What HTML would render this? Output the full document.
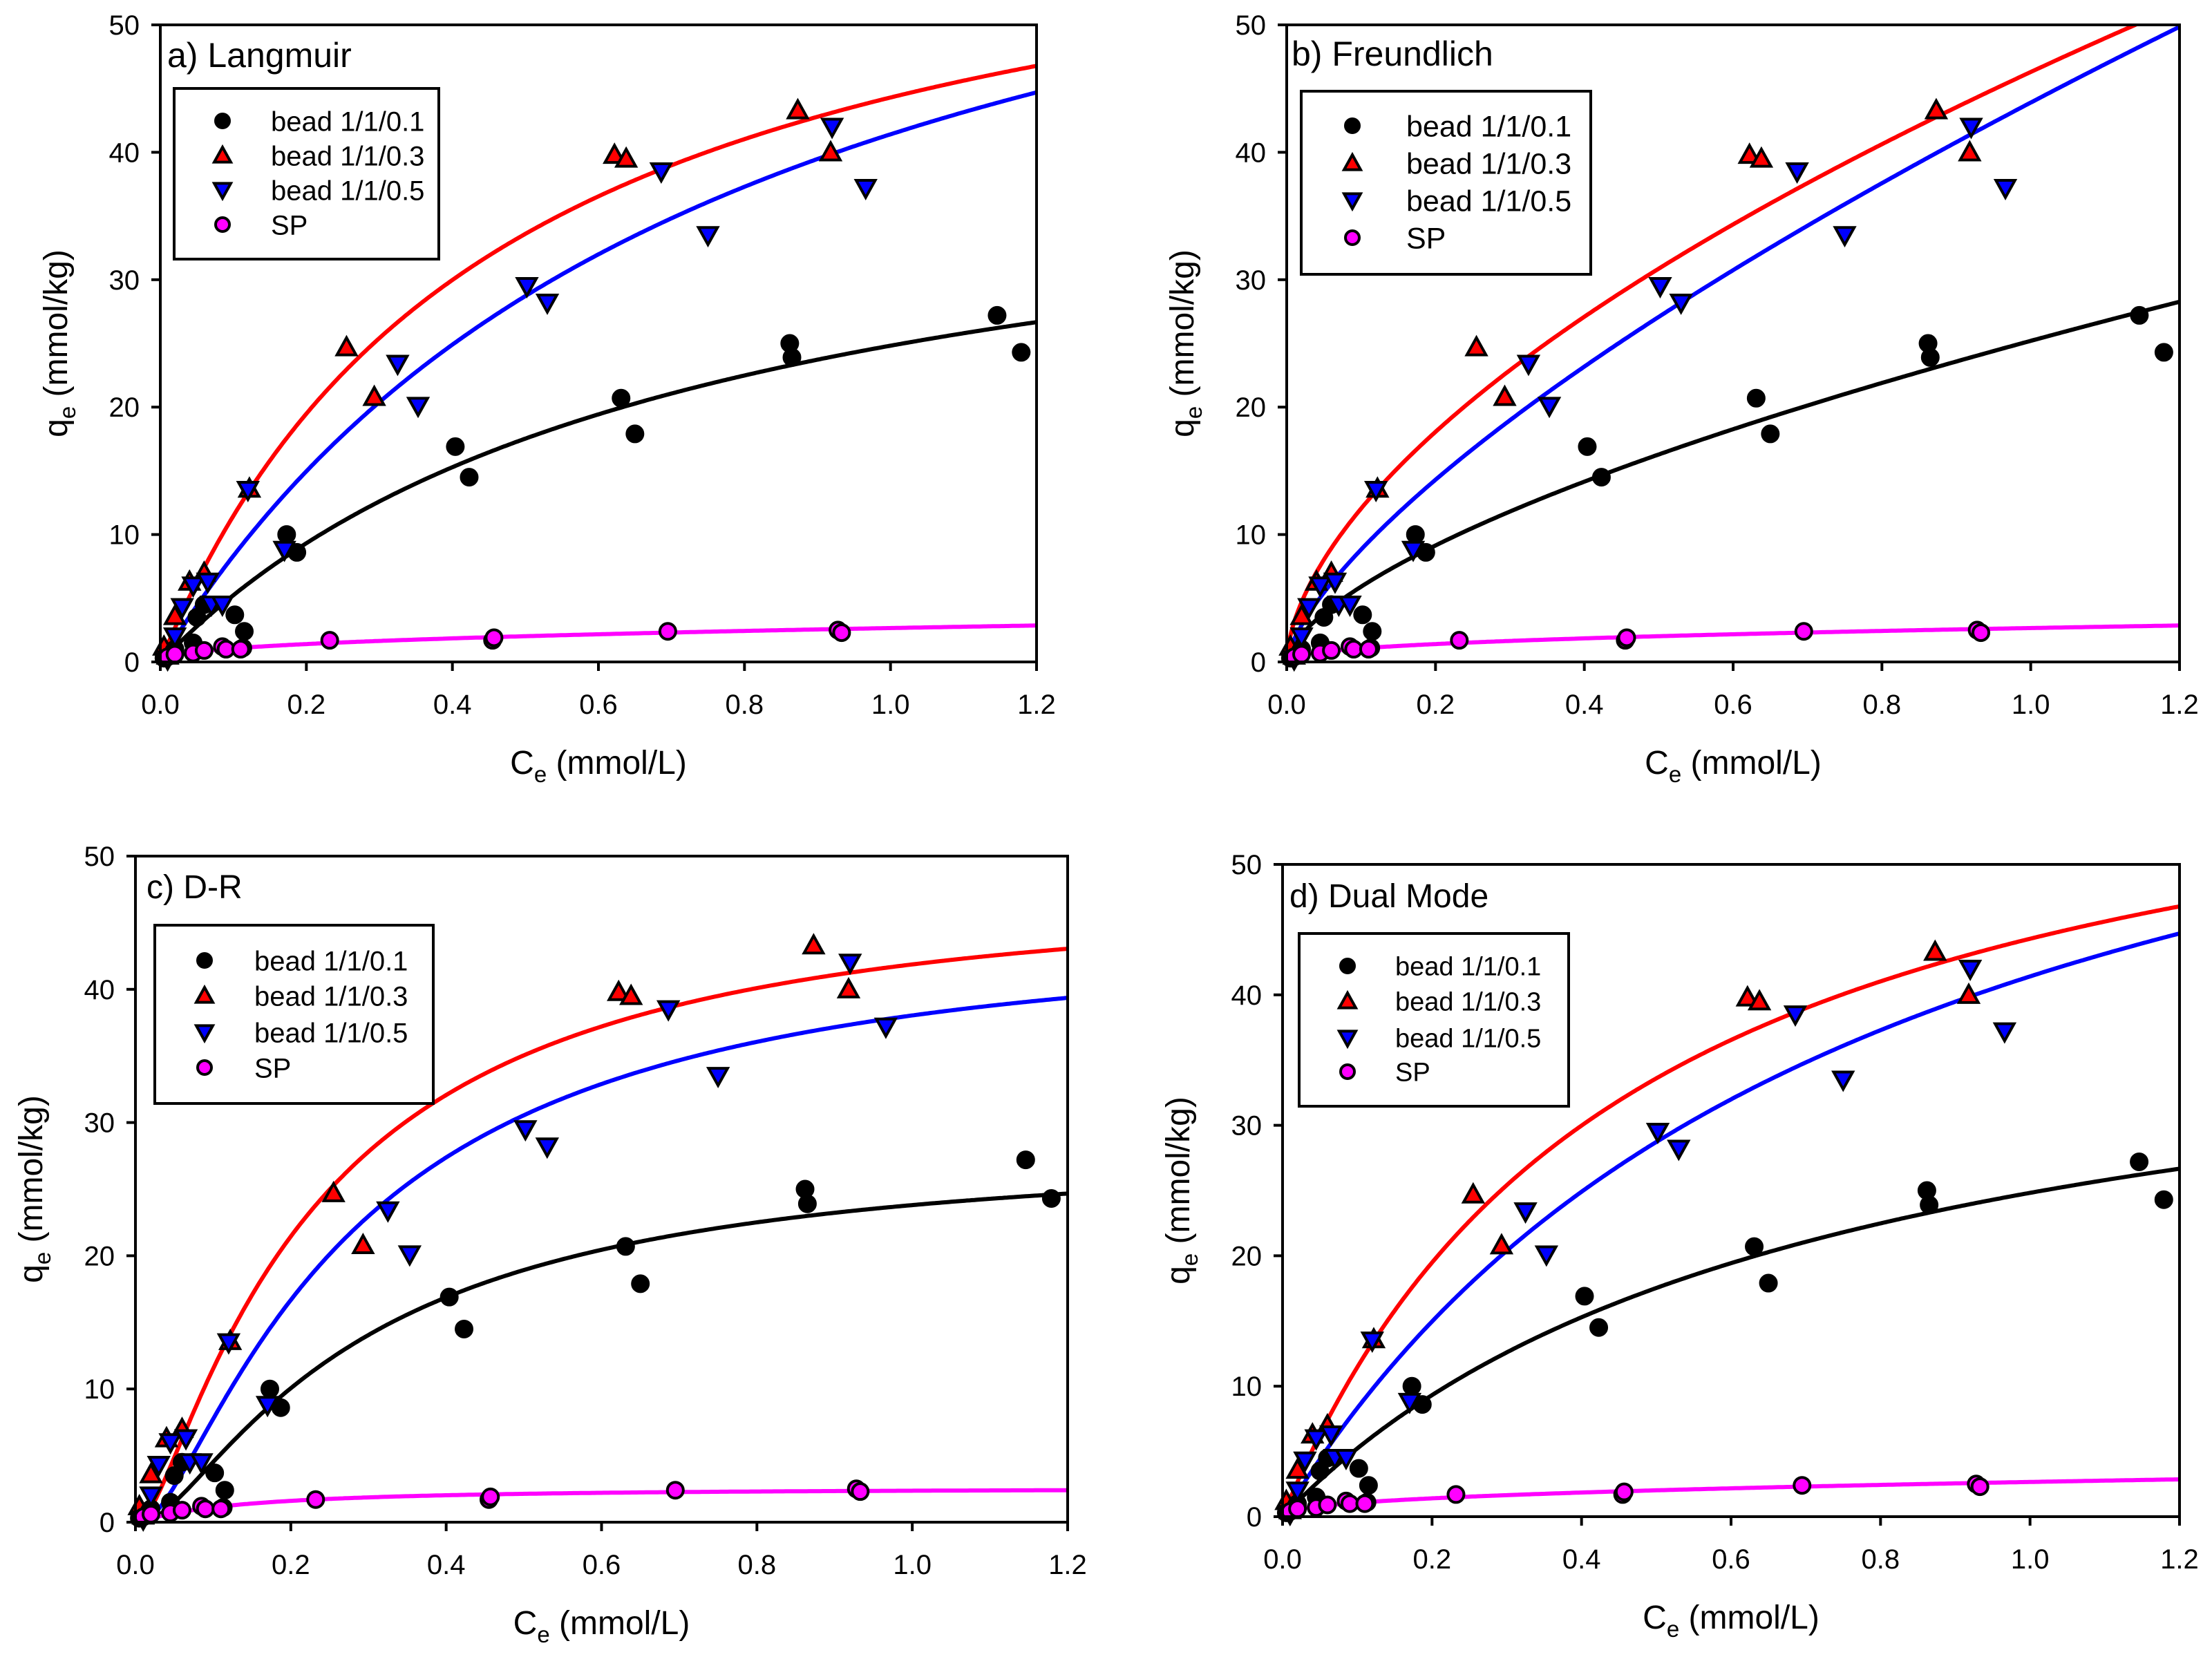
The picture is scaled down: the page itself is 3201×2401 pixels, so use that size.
<!DOCTYPE html>
<html><head><meta charset="utf-8"><style>
html,body{margin:0;padding:0;background:#fff}
svg{display:block}
text{font-family:"Liberation Sans",Arial,sans-serif;fill:#000}
</style></head><body>
<svg id="fig" xmlns="http://www.w3.org/2000/svg" width="3201" height="2401" viewBox="0 0 3201 2401">
<rect x="0" y="0" width="3201" height="2401" fill="#fff"/>
</svg>
<script>
// ---- data (Ce mmol/L, qe mmol/kg) ----
const b01X=[0.005,0.01,0.02,0.045,0.05,0.06,0.102,0.113,0.115,0.173,0.187,0.404,0.423,0.631,0.65,0.862,0.865,1.146,1.179];
const b01Y=[0.3,0.8,1.0,1.5,3.5,4.5,3.7,1.1,2.4,10.0,8.6,16.9,14.5,20.7,17.9,25.0,23.9,27.2,24.3];
const b03X=[0.005,0.01,0.02,0.04,0.06,0.122,0.255,0.293,0.622,0.638,0.873,0.918];
const b03Y=[1.2,0.5,3.6,6.3,7.0,13.6,24.7,20.8,39.8,39.5,43.3,40.0];
const b05X=[0.01,0.02,0.03,0.045,0.065,0.07,0.085,0.12,0.17,0.325,0.353,0.502,0.53,0.686,0.75,0.92,0.966];
const b05Y=[0.2,2.0,4.3,6.0,6.3,4.5,4.5,13.5,8.8,23.4,20.1,29.5,28.2,38.5,33.5,42.0,37.2];
const spX=[0.01,0.02,0.045,0.06,0.085,0.09,0.11,0.232,0.455,0.457,0.695,0.928,0.933];
const spY=[0.4,0.6,0.7,0.9,1.2,1.0,1.0,1.7,1.7,1.9,2.4,2.5,2.3];
const xTicks=[0,0.2,0.4,0.6,0.8,1.0,1.2];
const xTickLabels=["0.0","0.2","0.4","0.6","0.8","1.0","1.2"];
const yTicks=[0,10,20,30,40,50];
const yTickLabels=["0","10","20","30","40","50"];
const seriesNames=["bead 1/1/0.1","bead 1/1/0.3","bead 1/1/0.5","SP"];
// fitted model parameters
const langK=[1.404,2.14,1.263];
const langQm=[42.5,65.0,74.2];
const freA=[25.2,46.3,43.9];
const freN=[0.63,0.585,0.697];
const drQm=[27.7,47.1,43.98,2.53];
const drK=[0.3156,0.245,0.302,0.1426];
const spA=2.66, spN=0.397;

const NS="http://www.w3.org/2000/svg";
const svg=document.getElementById('fig');
function el(tag,attrs,parent){const e=document.createElementNS(NS,tag);for(const k in attrs)e.setAttribute(k,attrs[k]);(parent||svg).appendChild(e);return e;}

const colors=["#000000","#ff0000","#0000ff","#ff00ff"];
const curveColors=["#000000","#ff0000","#0000ff","#ff00ff"];
const shapes=["circle","up","down","circle"];

function marker(g,shape,cx,cy,r,fill){
  let m;
  if(shape==="circle"){m=el('circle',{cx:cx,cy:cy,r:r,fill:fill,stroke:'#000','stroke-width':4},g);}
  else if(shape==="up"){const h=r*1.2;m=el('polygon',{points:`${cx},${cy-h} ${cx+h},${cy+h*0.8} ${cx-h},${cy+h*0.8}`,fill:fill,stroke:'#000','stroke-width':4,'stroke-linejoin':'miter'},g);}
  else {const h=r*1.2;m=el('polygon',{points:`${cx},${cy+h} ${cx+h},${cy-h*0.8} ${cx-h},${cy-h*0.8}`,fill:fill,stroke:'#000','stroke-width':4},g);}
  return m;
}

function langmuir(i){return c=>langQm[i]*langK[i]*c/(1+langK[i]*c);}
function freund(i){return c=>freA[i]*Math.pow(c,freN[i]);}
function dr(i){return c=>{if(c<=0)return 0;const e=Math.log(1+1/c);return drQm[i]*Math.exp(-drK[i]*e*e);};}
function spPow(){return c=>spA*Math.pow(c,spN);}

const panels=[
 {id:'a',label:'a) Langmuir',L:232,R:1500,T:36,B:958,fn:[langmuir(0),langmuir(1),langmuir(2),spPow()],
  lg:{x:252,y:128,w:383,h:247,sx:322,tx:392,rows:[175,225,275,325],fs:40},lab:{x:242,y:97,fs:50}},
 {id:'b',label:'b) Freundlich',L:1862,R:3154,T:36,B:958,fn:[freund(0),freund(1),freund(2),spPow()],
  lg:{x:1883,y:132,w:419,h:265,sx:1957,tx:2035,rows:[182,236,290,344],fs:43},lab:{x:1869,y:95,fs:50}},
 {id:'c',label:'c) D-R',L:196,R:1545,T:1239,B:2203,fn:[dr(0),dr(1),dr(2),dr(3)],
  lg:{x:224,y:1339,w:403,h:258,sx:296,tx:368,rows:[1390,1441,1494,1545],fs:40},lab:{x:212,y:1300,fs:48}},
 {id:'d',label:'d) Dual Mode',L:1856,R:3154,T:1251,B:2195,fn:[langmuir(0),langmuir(1),langmuir(2),spPow()],
  lg:{x:1880,y:1351,w:390,h:250,sx:1950,tx:2019,rows:[1398,1449,1502,1551],fs:38},lab:{x:1866,y:1313,fs:48}}
];

const allX=[b01X,b03X,b05X,spX], allY=[b01Y,b03Y,b05Y,spY];

panels.forEach(p=>{
  const g=el('g',{});
  
  
  const sx=v=>p.L+(v/1.2)*(p.R-p.L);
  const sy=v=>p.B-(v/50)*(p.B-p.T);
  const cp=el('clipPath',{id:'clip'+p.id},g);
  el('rect',{x:p.L,y:p.T,width:p.R-p.L,height:p.B-p.T},cp);
  const cg=el('g',{'clip-path':`url(#clip${p.id})`},g);
  p.fn.forEach((f,i)=>{
    let d='';
    for(let k=0;k<=400;k++){const c=1.2*k/400;const q=f(c);d+=(k?'L':'M')+sx(c).toFixed(1)+','+sy(q).toFixed(1);}
    const path=el('path',{d:d,fill:'none',stroke:curveColors[i],'stroke-width':6},cg);
    
    
  });
  const pg=el('g',{},g);
  allX.forEach((xs,i)=>{
    xs.forEach((x,j)=>{
      const m=marker(pg,shapes[i],sx(x),sy(allY[i][j]),11.5,colors[i]);
      
      
    });
  });
  const fr=el('rect',{x:p.L,y:p.T,width:p.R-p.L,height:p.B-p.T,fill:'none',stroke:'#000','stroke-width':4},g);
  
  
  xTicks.forEach((t,i)=>{
    el('line',{x1:sx(t),x2:sx(t),y1:p.B,y2:p.B+13,stroke:'#000','stroke-width':4},g);
    const tx=el('text',{x:sx(t),y:p.B+75,'font-size':40,'text-anchor':'middle'},g);
    tx.textContent=xTickLabels[i];
    
    
  });
  yTicks.forEach((t,i)=>{
    el('line',{x1:p.L-13,x2:p.L,y1:sy(t),y2:sy(t),stroke:'#000','stroke-width':4},g);
    const tx=el('text',{x:p.L-30,y:sy(t)+14,'font-size':40,'text-anchor':'end'},g);
    tx.textContent=yTickLabels[i];
    
    
  });
  const xt=el('text',{x:(p.L+p.R)/2,y:p.B+162,'font-size':48,'text-anchor':'middle'},g);
  xt.innerHTML='C<tspan dy="12" font-size="33">e</tspan><tspan dy="-12"> (mmol/L)</tspan>';
  
  
  const yc=(p.T+p.B)/2, yx=p.L-135;
  const yt=el('text',{x:yx,y:yc,'font-size':48,'text-anchor':'middle',transform:`rotate(-90 ${yx} ${yc})`},g);
  yt.innerHTML='q<tspan dy="12" font-size="33">e</tspan><tspan dy="-12"> (mmol/kg)</tspan>';
  
  
  const lb=el('text',{x:p.lab.x,y:p.lab.y,'font-size':p.lab.fs},g);
  lb.textContent=p.label;
  
  
  const lgG=el('g',{},g);
  
  
  el('rect',{x:p.lg.x,y:p.lg.y,width:p.lg.w,height:p.lg.h,fill:'#fff',stroke:'#000','stroke-width':4},lgG);
  seriesNames.forEach((n,i)=>{
    const ry=p.lg.rows[i];
    const m=marker(lgG,shapes[i],p.lg.sx,ry,10,colors[i]);
    
    
    const t=el('text',{x:p.lg.tx,y:ry+p.lg.fs*0.36,'font-size':p.lg.fs},lgG);
    t.textContent=n;
    
    
  });
});
</script>
</body></html>
